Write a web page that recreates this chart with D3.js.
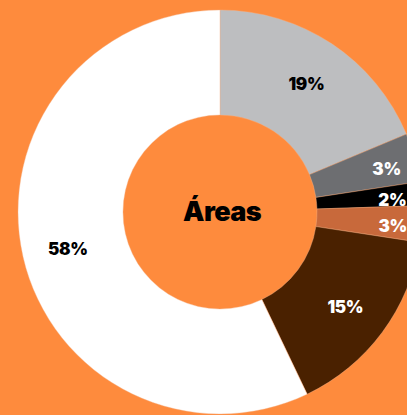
<!DOCTYPE html>
<html>
<head>
<meta charset="utf-8">
<script src="https://cdn.jsdelivr.net/npm/d3@7"></script>
<style>
  html, body { margin: 0; padding: 0; background: #FE8B3D; overflow: hidden; }
  svg { display: block; }
</style>
</head>
<body>
<svg id="chart" width="407" height="415"></svg>
<script>
// Data (shares of each area, clockwise from 12 o'clock)
const categories = ["A", "B", "C", "D", "E", "F"];
const shares = [18.7, 3.9, 1.9, 2.9, 15.5, 57.1];
const labels = ["19%", "3%", "2%", "3%", "15%", "58%"];
const colors = ["#BDBEC0", "#6D6E71", "#000000", "#C8693B", "#4A2100", "#FFFFFF"];
const labelColors = ["#000000", "#FFFFFF", "#FFFFFF", "#FFFFFF", "#FFFFFF", "#000000"];
const centerTitle = "Áreas";

const width = 407, height = 415;
const cx = 220, cy = 212;
const outerR = 202, innerR = 97;

const svg = d3.select("#chart");
svg.append("rect").attr("width", width).attr("height", height).attr("fill", "#FE8B3D");

const g = svg.append("g").attr("transform", `translate(${cx},${cy})`);

const data = categories.map((c, i) => ({ cat: c, value: shares[i], label: labels[i], color: colors[i], lc: labelColors[i] }));

const pie = d3.pie().value(d => d.value).sort(null).startAngle(0).endAngle(2 * Math.PI);
const arcs = pie(data);

const arc = d3.arc().innerRadius(innerR).outerRadius(outerR);

g.selectAll("path.slice")
  .data(arcs)
  .join("path")
  .attr("class", "slice")
  .attr("d", arc)
  .attr("fill", d => d.data.color)
  .attr("stroke", "#F6B48A")
  .attr("stroke-width", 0.4);

const labelArcBig = d3.arc().innerRadius(156).outerRadius(156);
const labelArcSmall = d3.arc().innerRadius(173).outerRadius(173);

g.selectAll("text.lbl")
  .data(arcs)
  .join("text")
  .attr("class", "lbl")
  .attr("transform", d => {
    const small = d.data.value < 5;
    const a = (small ? labelArcSmall : labelArcBig).centroid(d);
    return `translate(${a[0]},${a[1] + (small ? 4 : 2)})`;
  })
  .attr("text-anchor", "middle")
  .attr("dominant-baseline", "central")
  .attr("font-family", "Inter, 'Noto Sans', sans-serif")
  .attr("font-weight", 900)
  .attr("font-size", 17)
  .attr("letter-spacing", "-0.3")
  .attr("fill", d => d.data.lc)
  .text(d => d.data.label);

g.append("text")
  .attr("x", 2)
  .attr("y", -1)
  .attr("text-anchor", "middle")
  .attr("dominant-baseline", "central")
  .attr("font-family", "Inter, 'Noto Sans', sans-serif")
  .attr("font-weight", 900)
  .attr("font-size", 27)
  .attr("letter-spacing", "-0.6")
  .attr("fill", "#000000")
  .text(centerTitle);
</script>
</body>
</html>
